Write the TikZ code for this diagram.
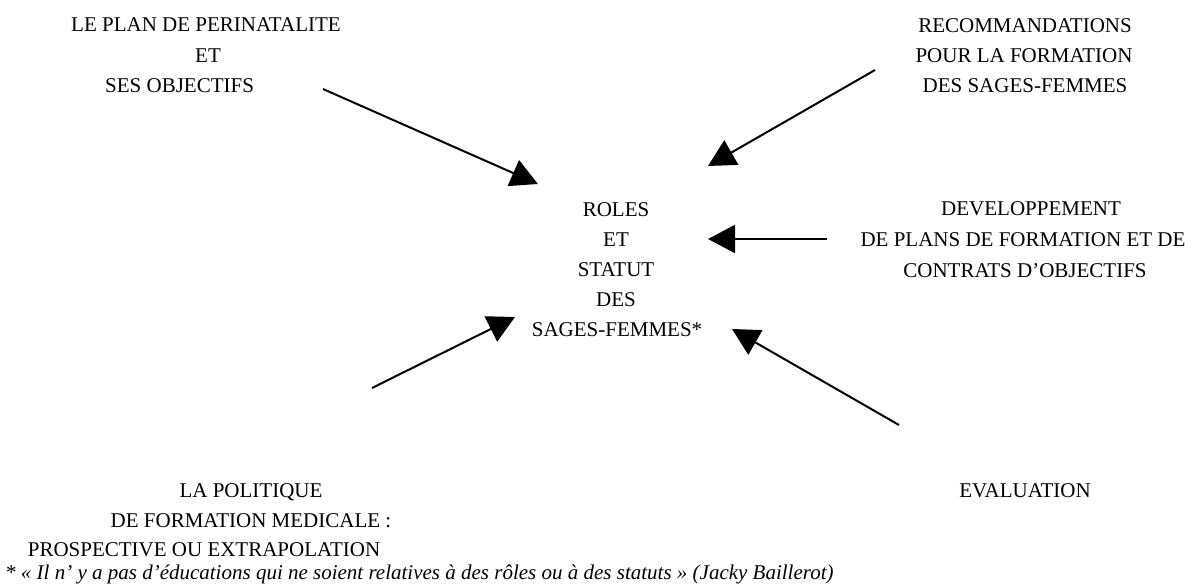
\documentclass[tikz,border=0pt]{standalone}
\usepackage{fontspec}
\setmainfont{Liberation Serif}
\usetikzlibrary{arrows.meta}
\begin{document}
\begin{tikzpicture}[x=1pt,y=-1pt,
  lbl/.style={inner sep=0pt,anchor=base,font=\fontsize{21}{30}\selectfont},
  lblw/.style={inner sep=0pt,anchor=base west,font=\fontsize{21}{30}\selectfont},
  conn/.style={line width=2pt,-{Triangle[length=27pt,width=28pt]}}]
\useasboundingbox[fill=white] (0,0) rectangle (1193,588);
% top left
\node[lbl] (tl1) at (206,32) {LE PLAN DE PERINATALITE};
\node[lbl] (tl2) at (208,63) {ET};
\node[lblw] (tl3) at (105,93) {SES OBJECTIFS};
% top right
\node[lbl] (tr1) at (1025,33) {RECOMMANDATIONS};
\node[lbl] (tr2) at (1024,63) {POUR LA FORMATION};
\node[lbl] (tr3) at (1025,93) {DES SAGES-FEMMES};
% center
\node[lbl] (c1) at (616,216) {ROLES};
\node[lbl] (c2) at (616,246) {ET};
\node[lbl] (c3) at (616,276) {STATUT};
\node[lbl] (c4) at (616,306) {DES};
\node[lbl] (c5) at (617,336) {SAGES-FEMMES*};
% right middle
\node[lbl] (rm1) at (1031,215) {DEVELOPPEMENT};
\node[lbl] (rm2) at (1023,246) {DE PLANS DE FORMATION ET DE};
\node[lbl] (rm3) at (1025,277) {CONTRATS D’OBJECTIFS};
% bottom left
\node[lbl] (bl1) at (251,497) {LA POLITIQUE};
\node[lbl] (bl2) at (251,527) {DE FORMATION MEDICALE :};
\node[lbl] (bl3) at (204,556) {PROSPECTIVE OU EXTRAPOLATION};
% bottom right
\node[lbl] (br1) at (1025,497) {EVALUATION};
% footnote
\node[lblw,font=\fontsize{21}{24}\selectfont\itshape] (fn) at (5,579) {* « Il n’ y a pas d’éducations qui ne soient relatives à des rôles ou à des statuts » (Jacky Baillerot)};
% arrow endpoints
\coordinate (a1s) at (323,89);  \coordinate (a1e) at (538,184);
\coordinate (a2s) at (875,70);  \coordinate (a2e) at (708,166);
\coordinate (a3s) at (827,239); \coordinate (a3e) at (708,239);
\coordinate (a4s) at (372,388); \coordinate (a4e) at (515,317);
\coordinate (a5s) at (899,425); \coordinate (a5e) at (732,329);
\draw[conn] (a1s) -- (a1e);
\draw[conn] (a2s) -- (a2e);
\draw[conn] (a3s) -- (a3e);
\draw[conn] (a4s) -- (a4e);
\draw[conn] (a5s) -- (a5e);
\end{tikzpicture}
\end{document}
